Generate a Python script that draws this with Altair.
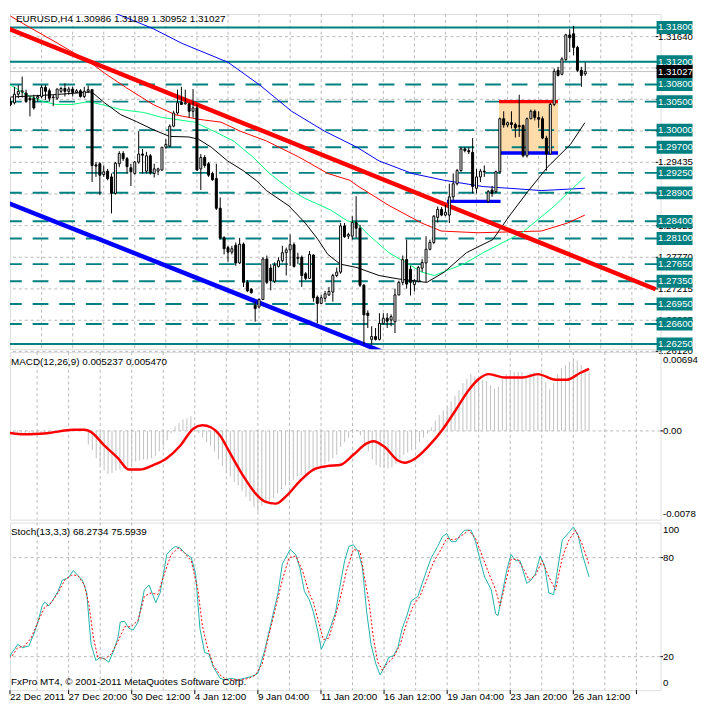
import altair as alt
import pandas as pd

# ---------------- data ----------------
OPEN = [1.3050, 1.3048, 1.3063, 1.3067, 1.3065, 1.3056, 1.3056, 1.3056, 1.3059, 1.3075,
        1.3069, 1.3058, 1.3056, 1.3068, 1.3073, 1.3068, 1.3072, 1.3066, 1.3069, 1.3059,
        1.3068, 1.3071, 1.2939, 1.2941, 1.2922, 1.2928, 1.2918, 1.2889, 1.2941, 1.2959,
        1.2950, 1.2934, 1.2924, 1.2944, 1.2958, 1.2928, 1.2955, 1.2924, 1.2928, 1.2930,
        1.2970, 1.2972, 1.3007, 1.3030, 1.3049, 1.3046, 1.3046, 1.3033, 1.3039, 1.2932,
        1.2952, 1.2941, 1.2924, 1.2915, 1.2863, 1.2811, 1.2794, 1.2786, 1.2798, 1.2767,
        1.2800, 1.2733, 1.2721, 1.2693, 1.2690, 1.2703, 1.2774, 1.2758, 1.2735, 1.2761,
        1.2771, 1.2785, 1.2790, 1.2799, 1.2775, 1.2777, 1.2748, 1.2740, 1.2781, 1.2707,
        1.2696, 1.2705, 1.2711, 1.2716, 1.2745, 1.2751, 1.2832, 1.2814, 1.2814, 1.2838,
        1.2828, 1.2728, 1.2679, 1.2633, 1.2638, 1.2633, 1.2661, 1.2670, 1.2667, 1.2664,
        1.2711, 1.2733, 1.2773, 1.2756, 1.2729, 1.2735, 1.2758, 1.2767, 1.2791, 1.2803,
        1.2847, 1.2861, 1.2851, 1.2851, 1.2883, 1.2906, 1.2929, 1.2967, 1.2964, 1.2961,
        1.2898, 1.2918, 1.2928, 1.2875, 1.2895, 1.2892, 1.2927, 1.3020, 1.3009, 1.3013,
        1.3010, 1.3008, 1.3008, 1.2955, 1.3020, 1.3033, 1.3022, 1.3020, 1.2986, 1.2958,
        1.3045, 1.3105, 1.3098, 1.3124, 1.3167, 1.3169, 1.3145, 1.3105, 1.30986]
HIGH = [1.3057, 1.3076, 1.3079, 1.3094, 1.3071, 1.3059, 1.3062, 1.3062, 1.3079, 1.3079,
        1.3073, 1.3062, 1.3073, 1.3076, 1.3082, 1.3076, 1.3076, 1.3072, 1.3072, 1.3076,
        1.3078, 1.3072, 1.2944, 1.2944, 1.2938, 1.2932, 1.2924, 1.2944, 1.2963, 1.2963,
        1.2953, 1.2941, 1.2946, 1.2998, 1.2967, 1.2962, 1.2958, 1.2941, 1.2934, 1.2970,
        1.2984, 1.3010, 1.3034, 1.3071, 1.3076, 1.3071, 1.3048, 1.3072, 1.3045, 1.2958,
        1.2956, 1.2944, 1.2927, 1.2941, 1.2882, 1.2814, 1.2797, 1.2797, 1.2803, 1.2811,
        1.2803, 1.2737, 1.2723, 1.2699, 1.2705, 1.2777, 1.2780, 1.2765, 1.2768, 1.2777,
        1.2797, 1.2794, 1.2817, 1.2803, 1.2785, 1.2780, 1.2751, 1.2788, 1.2782, 1.2710,
        1.2711, 1.2718, 1.2725, 1.2748, 1.2759, 1.2837, 1.2837, 1.2820, 1.2849, 1.2884,
        1.2834, 1.2730, 1.2684, 1.2656, 1.2653, 1.2679, 1.2679, 1.2679, 1.2677, 1.2722,
        1.2736, 1.2780, 1.2808, 1.2762, 1.2739, 1.2762, 1.2774, 1.2814, 1.2808, 1.2851,
        1.2866, 1.2865, 1.2869, 1.2906, 1.2924, 1.2932, 1.2970, 1.2970, 1.2970, 1.2986,
        1.2932, 1.2932, 1.2938, 1.2895, 1.2902, 1.2929, 1.3022, 1.3033, 1.3015, 1.3033,
        1.3013, 1.3062, 1.3010, 1.3022, 1.3036, 1.3036, 1.3033, 1.3024, 1.2990, 1.3048,
        1.3108, 1.3111, 1.3128, 1.3169, 1.3177, 1.3183, 1.3148, 1.3111, 1.31189]
LOW = [1.3042, 1.3045, 1.3056, 1.3057, 1.3048, 1.3024, 1.3036, 1.3050, 1.3056, 1.3053,
       1.3050, 1.3042, 1.3053, 1.3065, 1.3059, 1.3062, 1.3059, 1.3065, 1.3057, 1.3056,
       1.3065, 1.2909, 1.2918, 1.2886, 1.2918, 1.2912, 1.2854, 1.2887, 1.2935, 1.2946,
       1.2924, 1.2902, 1.2922, 1.2941, 1.2924, 1.2924, 1.2922, 1.2917, 1.2921, 1.2929,
       1.2967, 1.2970, 1.3005, 1.3027, 1.3045, 1.3045, 1.3022, 1.3022, 1.2929, 1.2895,
       1.2934, 1.2918, 1.2911, 1.2860, 1.2808, 1.2782, 1.2769, 1.2782, 1.2762, 1.2765,
       1.2725, 1.2716, 1.2713, 1.2664, 1.2687, 1.2702, 1.2730, 1.2719, 1.2732, 1.2759,
       1.2768, 1.2745, 1.2762, 1.2759, 1.2765, 1.2725, 1.2737, 1.2739, 1.2699, 1.2661,
       1.2695, 1.2699, 1.2709, 1.2699, 1.2742, 1.2748, 1.2811, 1.2809, 1.2808, 1.2811,
       1.2725, 1.2624, 1.2653, 1.2624, 1.2631, 1.2631, 1.2659, 1.2653, 1.2656, 1.2644,
       1.2710, 1.2728, 1.2722, 1.2710, 1.2717, 1.2733, 1.2751, 1.2733, 1.2789, 1.2800,
       1.2838, 1.2849, 1.2849, 1.2837, 1.2877, 1.2903, 1.2927, 1.2961, 1.2958, 1.2889,
       1.2889, 1.2909, 1.2918, 1.2872, 1.2883, 1.2889, 1.2924, 1.3004, 1.3005, 1.3003,
       1.2987, 1.2988, 1.2952, 1.2952, 1.3019, 1.3017, 1.3004, 1.2984, 1.2929, 1.2958,
       1.3042, 1.3094, 1.3096, 1.3121, 1.3137, 1.3131, 1.3102, 1.3076, 1.30952]
CLOSE = [1.3045, 1.3063, 1.3068, 1.3069, 1.3050, 1.3053, 1.3039, 1.3059, 1.3075, 1.3068,
         1.3056, 1.3057, 1.3072, 1.3073, 1.3068, 1.3072, 1.3066, 1.3069, 1.3059, 1.3068,
         1.3071, 1.2938, 1.2937, 1.2921, 1.2927, 1.2915, 1.2889, 1.2942, 1.2959, 1.2950,
         1.2936, 1.2927, 1.2944, 1.2958, 1.2956, 1.2955, 1.2925, 1.2932, 1.2932, 1.2970,
         1.2975, 1.3007, 1.3030, 1.3048, 1.3045, 1.3048, 1.3033, 1.3039, 1.2930, 1.2952,
         1.2938, 1.2921, 1.2913, 1.2863, 1.2811, 1.2792, 1.2786, 1.2792, 1.2767, 1.2800,
         1.2733, 1.2718, 1.2715, 1.2687, 1.2703, 1.2774, 1.2733, 1.2736, 1.2763, 1.2771,
         1.2785, 1.2790, 1.2799, 1.2761, 1.2777, 1.2745, 1.2740, 1.2782, 1.2706, 1.2696,
         1.2706, 1.2713, 1.2717, 1.2745, 1.2751, 1.2832, 1.2813, 1.2817, 1.2838, 1.2828,
         1.2728, 1.2676, 1.2675, 1.2638, 1.2633, 1.2661, 1.2670, 1.2665, 1.2673, 1.2711,
         1.2733, 1.2773, 1.2730, 1.2733, 1.2735, 1.2759, 1.2768, 1.2791, 1.2803, 1.2849,
         1.2861, 1.2851, 1.2856, 1.2883, 1.2906, 1.2929, 1.2967, 1.2964, 1.2962, 1.2901,
         1.2918, 1.2928, 1.2927, 1.2892, 1.2889, 1.2927, 1.3020, 1.3009, 1.3013, 1.3010,
         1.3004, 1.3006, 1.2955, 1.3020, 1.3033, 1.3022, 1.3019, 1.2986, 1.2958, 1.3045,
         1.3103, 1.3096, 1.3125, 1.3167, 1.3162, 1.3145, 1.3105, 1.3096, 1.31027]

BLUE_MA_I = [24, 31.7, 36.7, 44.2, 56.0, 64.2, 72.4, 80.9, 89.2, 94.9, 103.4, 111.7, 121.7, 128.4, 136.7, 147.9]
BLUE_MA_P = [1.3213, 1.3192, 1.3178, 1.3152, 1.3119, 1.3079, 1.3033, 1.2998, 1.2970, 1.2946, 1.2924, 1.2912,
             1.2901, 1.2898, 1.2894, 1.2898]
RED_MA_I = [0, 4.2, 11.7, 20.9, 24.2, 29.9, 36.7, 42.4, 48.4, 54.2, 59.2, 65.9, 74.2, 81.7, 87.4, 89.2, 97.4,
            105.9, 110.9, 120.4, 136.7, 143.4, 147.9]
RED_MA_P = [1.3200, 1.3183, 1.3154, 1.3117, 1.3100, 1.3074, 1.3045, 1.3027, 1.3019, 1.3014, 1.2998, 1.2981,
            1.2953, 1.2924, 1.2912, 1.2903, 1.2868, 1.2837, 1.2823, 1.2820, 1.2823, 1.2837, 1.2851]
GREEN_MA_I = [0, 4.2, 8.4, 11.7, 15.9, 20.0, 23.4, 28.4, 34.2, 39.2, 47.4, 52.4, 57.4, 62.4, 66.7, 72.4, 75.9,
              82.4, 86.7, 89.2, 92.4, 97.4, 101.7, 105.9, 109.2, 112.4, 116.7, 121.7, 131.7, 139.9, 147.9]
GREEN_MA_P = [1.3079, 1.3062, 1.3050, 1.3045, 1.3045, 1.3050, 1.3045, 1.3036, 1.3031, 1.3022, 1.3014, 1.2998,
              1.2981, 1.2953, 1.2924, 1.2894, 1.2880, 1.2860, 1.2841, 1.2837, 1.2815, 1.2785, 1.2768, 1.2751,
              1.2745, 1.2754, 1.2765, 1.2785, 1.2820, 1.2866, 1.2918]
BLACK_MA_I = [0, 10.9, 20.9, 24.2, 28.4, 32.4, 36.7, 40.9, 45.9, 48.4, 51.7, 55.9, 59.9, 63.4, 65.9, 71.7, 75.9,
              79.2, 81.7, 84.9, 89.2, 94.9, 99.9, 107.2, 111.7, 117.4, 124.2, 128.4, 133.4, 138.4, 144.2, 147.9]
BLACK_MA_P = [1.3058, 1.3062, 1.3067, 1.3048, 1.3027, 1.3015, 1.3001, 1.2989, 1.2988, 1.2984, 1.2970, 1.2946,
              1.2929, 1.2911, 1.2894, 1.2867, 1.2837, 1.2808, 1.2782, 1.2765, 1.2759, 1.2745, 1.2739, 1.2733,
              1.2751, 1.2785, 1.2808, 1.2849, 1.2894, 1.2936, 1.2975, 1.3013]

RED_TREND_I = [-0.875, 166.125]
RED_TREND_P = [1.3179, 1.2721]
BLUE_TREND_I = [-0.875, 96.6]
BLUE_TREND_P = [1.2873, 1.2609]

SOLID_LEVELS = [1.3180, 1.3120, 1.2625]
DASH_LEVELS = [1.3080, 1.3050, 1.3000, 1.2970, 1.2925, 1.2890, 1.2840, 1.2810, 1.2765, 1.2735, 1.2695, 1.2660]
GRID_PRICES = [1.31640, 1.31090, 1.30540, 1.29985, 1.29435, 1.28880, 1.28325, 1.27770, 1.27215, 1.26665, 1.26120]
SCALE_LABELS = [1.31640, 1.29435, 1.28325, 1.27770, 1.27215, 1.26665, 1.26120]
BID = 1.31027

BOX_I = [125.8, 141.0]
BOX_TOP, BOX_BOTTOM = 1.3050, 1.2960
SUPPORT_I = [112.4, 126.2]
SUPPORT_P = 1.2875

MACD_HIST = [-0.0002, -0.0002, -0.0002, -0.0002, -0.0003, -0.0003, -0.0003, -0.0002, -0.0002, -0.0002,
             -0.0001, -0.0001, -0.0001, 0.0000, 0.0000, 0.0001, 0.0001, 0.0001, 0.0001, 0.0002,
             0.0002, -0.0012, -0.0017, -0.0024, -0.0030, -0.0035, -0.0038, -0.0037, -0.0035, -0.0034,
             -0.0033, -0.0032, -0.0030, -0.0027, -0.0026, -0.0025, -0.0025, -0.0024, -0.0022, -0.0018,
             -0.0013, -0.0008, -0.0002, 0.0004, 0.0007, 0.0010, 0.0011, 0.0013, 0.0004, -0.0002,
             -0.0006, -0.0010, -0.0013, -0.0018, -0.0025, -0.0031, -0.0036, -0.0040, -0.0045, -0.0048,
             -0.0053, -0.0058, -0.0062, -0.0067, -0.0071, -0.0066, -0.0064, -0.0062, -0.0059, -0.0055,
             -0.0051, -0.0048, -0.0044, -0.0043, -0.0040, -0.0039, -0.0038, -0.0034, -0.0034, -0.0033,
             -0.0031, -0.0029, -0.0027, -0.0024, -0.0021, -0.0014, -0.0010, -0.0006, -0.0002, 0.0001,
             -0.0004, -0.0012, -0.0018, -0.0025, -0.0030, -0.0032, -0.0033, -0.0033, -0.0032, -0.0029,
             -0.0026, -0.0021, -0.0019, -0.0017, -0.0014, -0.0010, -0.0006, -0.0002, 0.0003, 0.0009,
             0.0014, 0.0018, 0.0021, 0.0026, 0.0031, 0.0036, 0.0042, 0.0046, 0.0050, 0.0048,
             0.0046, 0.0045, 0.0044, 0.0040, 0.0037, 0.0039, 0.0047, 0.0050, 0.0051, 0.0052,
             0.0052, 0.0052, 0.0049, 0.0051, 0.0052, 0.0050, 0.0047, 0.0043, 0.0037, 0.0042,
             0.0050, 0.0055, 0.0058, 0.0061, 0.0063, 0.0062, 0.0058, 0.0055, 0.005237]
MACD_SIG_I = [0, 4.8, 10.5, 17.2, 20.0, 21.7, 25.1, 28.5, 31.3, 34.1, 37.5, 40.9, 44.3, 47.6, 49.9, 52.2, 54.4,
              56.7, 60.0, 63.4, 65.7, 68.5, 71.3, 74.7, 78.1, 81.5, 84.8, 88.2, 91.6, 93.3, 96.1, 99.5, 101.2,
              104.0, 107.4, 110.8, 114.1, 117.5, 119.8, 122.6, 126.6, 131.1, 135.0, 139.5, 142.3, 145.7, 148.0]
MACD_SIG_V = [-0.0001, -0.0003, -0.0002, 0.0001, 0.0001, -0.0001, -0.0013, -0.0024, -0.0034, -0.0034, -0.0030,
              -0.0024, -0.0013, 0.0002, 0.0005, 0.0003, -0.0004, -0.0018, -0.0038, -0.0055, -0.0062, -0.0064,
              -0.0057, -0.0044, -0.0034, -0.0031, -0.0030, -0.0021, -0.0011, -0.0009, -0.0014, -0.0026, -0.0028,
              -0.0024, -0.0013, 0.0001, 0.0018, 0.0036, 0.0045, 0.0050, 0.0047, 0.0047, 0.0050, 0.0045, 0.0045,
              0.0051, 0.00547]

STOCH_MAIN_I = [0.1, 1.4, 3.1, 4.3, 5.9, 7.1, 8.2, 9.3, 9.9, 11.0, 12.1, 13.3, 14.4, 15.5, 16.1, 17.2, 18.3, 19.5,
                20.6, 21.2, 21.7, 22.9, 24.0, 25.1, 26.2, 27.4, 28.5, 29.1, 30.2, 31.3, 32.4, 33.6, 35.2, 36.4,
                37.5, 38.1, 39.2, 40.9, 42.0, 43.1, 44.3, 45.4, 47.1, 48.2, 49.3, 50.5, 51.6, 52.7, 54.4, 55.5,
                57.2, 58.9, 60.6, 62.3, 64.0, 65.7, 67.4, 69.1, 70.2, 71.3, 72.2, 73.6, 74.7, 75.8, 77.0, 78.1,
                79.2, 80.1, 81.2, 82.6, 83.7, 84.8, 86.0, 87.1, 88.2, 89.4, 90.5, 91.6, 92.7, 93.9, 95.0, 96.1,
                97.2, 98.4, 99.5, 100.6, 101.8, 102.9, 104.6, 105.7, 106.8, 108.0, 109.6, 110.8, 111.9, 113.0,
                114.2, 115.3, 116.4, 118.1, 119.2, 120.4, 121.5, 123.2, 124.3, 124.9, 126.0, 127.1, 128.2, 129.4,
                130.5, 132.2, 133.3, 134.4, 135.6, 136.7, 137.8, 139.0, 140.1, 141.2, 142.3, 144.0, 145.2, 146.3,
                148.0]
STOCH_MAIN_V = [14.2, 21.6, 27.4, 25.5, 26.4, 33.2, 41.0, 50.8, 53.1, 50.8, 54.7, 59.5, 66.4, 67.3, 68.3, 72.2,
                69.3, 66.4, 58.6, 41.0, 27.4, 17.7, 19.6, 18.6, 16.7, 23.5, 31.3, 41.0, 41.4, 37.1, 36.2, 41.0,
                60.5, 63.4, 56.6, 52.7, 58.6, 81.9, 84.9, 86.8, 85.8, 82.9, 80.0, 70.3, 37.1, 22.5, 21.6, 13.8,
                6.9, 6.0, 6.9, 6.0, 6.9, 7.9, 9.9, 23.5, 41.0, 58.6, 76.1, 81.0, 84.9, 81.9, 73.2, 59.5, 54.7,
                46.9, 35.2, 24.5, 30.3, 39.1, 46.9, 62.5, 78.1, 86.8, 87.8, 83.9, 74.2, 46.9, 27.4, 15.7, 8.9,
                13.8, 19.6, 20.6, 25.5, 37.1, 44.9, 53.7, 56.6, 64.4, 72.2, 80.0, 86.8, 92.7, 94.6, 89.7, 89.7,
                93.6, 96.6, 96.6, 89.7, 78.1, 68.3, 60.5, 45.9, 44.9, 58.6, 72.2, 81.9, 78.1, 78.1, 64.4, 66.4,
                70.3, 81.0, 75.1, 58.6, 57.6, 74.2, 90.7, 93.6, 98.5, 93.6, 81.9, 68.3]
STOCH_SIG_I = [0.1, 1.4, 3.1, 4.8, 6.5, 8.2, 9.9, 11.6, 13.3, 15.0, 16.7, 18.3, 20.0, 21.2, 22.3, 23.4, 25.1, 26.8,
               28.5, 30.2, 31.9, 33.6, 35.2, 36.9, 38.6, 40.3, 42.0, 43.7, 45.4, 47.1, 48.8, 49.9, 51.0, 52.7,
               54.4, 56.1, 57.8, 60.0, 61.7, 63.4, 65.1, 66.8, 68.5, 70.2, 71.9, 73.6, 75.3, 77.0, 78.1, 79.4,
               80.6, 82.0, 83.2, 84.8, 86.5, 88.2, 89.9, 91.0, 92.2, 93.3, 94.4, 95.6, 96.7, 98.4, 100.1, 101.8,
               103.4, 105.1, 106.8, 108.5, 110.2, 111.9, 113.6, 114.7, 116.4, 117.5, 119.2, 120.9, 122.6, 124.3,
               125.4, 126.6, 128.2, 129.9, 131.6, 132.8, 134.4, 136.1, 137.8, 139.5, 141.2, 142.9, 144.6, 146.3,
               148.0]
STOCH_SIG_V = [21.6, 19.6, 25.5, 26.4, 31.3, 41.0, 49.8, 52.7, 58.6, 66.4, 69.3, 69.3, 63.4, 50.8, 31.3, 19.6,
               18.6, 21.6, 29.3, 38.1, 38.1, 42.0, 56.6, 58.6, 57.6, 70.3, 81.9, 85.8, 82.9, 78.1, 60.5, 39.1,
               27.4, 14.7, 8.9, 6.0, 6.0, 6.0, 6.9, 8.9, 15.7, 33.2, 49.8, 66.4, 80.0, 81.0, 72.2, 58.6, 52.7,
               41.0, 30.3, 31.3, 41.0, 54.7, 72.2, 84.9, 83.9, 68.3, 52.7, 31.3, 16.7, 11.8, 15.7, 19.6, 27.4,
               41.0, 50.8, 56.6, 66.4, 77.1, 83.9, 91.7, 90.7, 91.7, 94.6, 96.6, 91.7, 81.0, 70.3, 60.5, 50.8,
               62.5, 79.0, 79.0, 72.2, 66.4, 69.3, 78.1, 68.3, 60.5, 80.0, 90.7, 96.6, 87.8, 75.6]

TIME_TICKS = [1.125, 16, 32, 48, 64, 80, 96, 112, 128, 144, 160]
TIME_LABELS = ["22 Dec 2011", "27 Dec 20:00", "30 Dec 12:00", "4 Jan 12:00", "9 Jan 04:00",
               "11 Jan 20:00", "16 Jan 12:00", "19 Jan 04:00", "23 Jan 20:00", "26 Jan 12:00"]
VGRID = list(range(8, 161, 8))

PRICE_TITLE = "EURUSD,H4  1.30986 1.31189 1.30952 1.31027"
MACD_TITLE = "MACD(12,26,9) 0.005237 0.005470"
STOCH_TITLE = "Stoch(13,3,3) 68.2734 75.5939"
COPYRIGHT = "FxPro MT4, \u00a9 2001-2011 MetaQuotes Software Corp."

# ---------------- layout / style ----------------
FONT = "Liberation Sans"
FS = 10
LFS = 9.8
TEAL = "#008080"
GRIDC = "#b8b8b8"
X_DOMAIN = [1.125, 166.125]
BOX_LEFT = 166.375
RIGHT_EDGE = 175.625
LABEL_X = 166.75
LABEL_LIMIT = 35.5
W = 660
H_PRICE, H_MACD, H_STOCH = 340, 170, 170
PRICE_DOMAIN = [1.26159, 1.32037]
MACD_DOMAIN = [-0.00781, 0.00694]
STOCH_DOMAIN = [-0.3, 101.2]

xs = alt.Scale(domain=X_DOMAIN, nice=False, zero=False)


def X(f):
    return alt.X(f, type="quantitative", scale=xs, axis=None)


def XD(v):
    return alt.XDatum(v, type="quantitative", scale=xs, axis=None)


def yfuncs(domain):
    sc = alt.Scale(domain=domain, nice=False, zero=False)

    def Y(f):
        return alt.Y(f, type="quantitative", scale=sc, axis=None)

    def YD(v):
        return alt.YDatum(v, type="quantitative", scale=sc, axis=None)
    return Y, YD


def df_line(i_list, v_list):
    return pd.DataFrame({"i": i_list, "v": v_list})


def vgrid():
    return alt.Chart(pd.DataFrame({"i": VGRID})).mark_rule(
        color=GRIDC, strokeDash=[3, 3], strokeWidth=1).encode(x=X("i"))


def text_at(txt, x, y, YD, align="left", baseline="middle", color="black", size=FS):
    return alt.Chart(pd.DataFrame({"t": [txt]})).mark_text(
        align=align, baseline=baseline, font=FONT, fontSize=size, color=color
    ).encode(x=XD(x), y=YD(y), text="t:N")


def scale_text(df, Y, color="black"):
    return alt.Chart(df).mark_text(align="left", baseline="middle", font=FONT, fontSize=LFS, color=color,
                                   limit=LABEL_LIMIT, ellipsis="\u200b").encode(
        x=XD(LABEL_X), y=Y("v"), text="t:N")


# ---------------- price panel ----------------
YP, YPD = yfuncs(PRICE_DOMAIN)

hgrid = alt.Chart(pd.DataFrame({"v": GRID_PRICES})).mark_rule(
    color=GRIDC, strokeDash=[3, 3]).encode(y=YP("v"))
bid_line = alt.Chart(pd.DataFrame({"v": [BID]})).mark_rule(color="#c0c0c0").encode(y=YP("v"))

box = alt.Chart(pd.DataFrame({"a": [BOX_I[0]], "b": [BOX_I[1]], "t": [BOX_TOP], "u": [BOX_BOTTOM]})).mark_rect(
    fill="#FDDCAA").encode(x=X("a"), x2="b", y=YP("t"), y2="u")

solid_lv = alt.Chart(pd.DataFrame({"v": SOLID_LEVELS})).mark_rule(color=TEAL, strokeWidth=2).encode(y=YP("v"))
dash_lv = alt.Chart(pd.DataFrame({"v": DASH_LEVELS})).mark_rule(
    color=TEAL, strokeWidth=2, strokeDash=[16, 11]).encode(y=YP("v"))


def pline(i_list, v_list, color, width, Y, dash=None, interp=None):
    kw = dict(color=color, strokeWidth=width, clip=True)
    if dash:
        kw["strokeDash"] = dash
    if interp:
        kw["interpolate"] = interp
    return alt.Chart(df_line(i_list, v_list)).mark_line(**kw).encode(x=X("i"), y=Y("v"))


blue_ma = pline(BLUE_MA_I, BLUE_MA_P, "#0000ff", 1, YP)
red_ma = pline(RED_MA_I, RED_MA_P, "#ff0000", 1, YP)
green_ma = pline(GREEN_MA_I, GREEN_MA_P, "#00ff7f", 1, YP)
black_ma = pline(BLACK_MA_I, BLACK_MA_P, "#000000", 1, YP)
red_trend = pline(RED_TREND_I, RED_TREND_P, "#ff0000", 4.5, YP)
blue_trend = pline(BLUE_TREND_I, BLUE_TREND_P, "#0000ff", 4.5, YP)


def hseg(i_pair, p, color, width):
    return alt.Chart(pd.DataFrame({"a": [i_pair[0]], "b": [i_pair[1]], "p": [p]})).mark_rule(
        color=color, strokeWidth=width).encode(x=X("a"), x2="b", y=YP("p"))


seg_top = hseg(BOX_I, BOX_TOP, "#ff0000", 3.5)
seg_bot = hseg(BOX_I, BOX_BOTTOM, "#0000ff", 3.5)
seg_sup = hseg(SUPPORT_I, SUPPORT_P, "#0000ff", 3.5)

cdf = pd.DataFrame({"i": list(range(len(OPEN))), "o": OPEN, "h": HIGH, "l": LOW, "c": CLOSE})
wicks = alt.Chart(cdf).mark_rule(color="black", strokeWidth=1, clip=True).encode(
    x=X("i"), y=YP("l"), y2="h")
bodies = alt.Chart(cdf).mark_bar(size=2, stroke="black", strokeWidth=1, clip=True).encode(
    x=X("i"), y=YP("o"), y2="c",
    fill=alt.condition("datum.c >= datum.o", alt.value("white"), alt.value("black")))

# right price scale
glab = pd.DataFrame({"v": SCALE_LABELS, "t": [f"{p:.5f}" for p in SCALE_LABELS]})
gticks = alt.Chart(pd.DataFrame({"v": GRID_PRICES})).mark_rule(color="black").encode(
    x=XD(X_DOMAIN[1]), x2=alt.X2Datum(LABEL_X), y=YP("v"))
gtext = scale_text(glab, YP)

HALF = 0.00113
levels = SOLID_LEVELS + DASH_LEVELS
ldf = pd.DataFrame({"v": levels, "t": [f"{p:.5f}" for p in levels]})
ldf["top"] = ldf["v"] + HALF
ldf["bot"] = ldf["v"] - HALF
lbox = alt.Chart(ldf).mark_rect(fill=TEAL).encode(
    x=XD(BOX_LEFT), x2=alt.X2Datum(RIGHT_EDGE), y=YP("top"), y2="bot")
ltext = scale_text(ldf, YP, "white")
bdf = pd.DataFrame({"v": [BID], "t": [f"{BID:.5f}"], "top": [BID + HALF], "bot": [BID - HALF]})
bbox = alt.Chart(bdf).mark_rect(fill="black").encode(
    x=XD(BOX_LEFT), x2=alt.X2Datum(RIGHT_EDGE), y=YP("top"), y2="bot")
btext = scale_text(bdf, YP, "white")

ptitle = text_at(PRICE_TITLE, 1.4, 1.3203, YPD, baseline="top")

price = alt.layer(
    vgrid(), hgrid, bid_line, box, solid_lv, dash_lv,
    blue_ma, red_ma, green_ma, black_ma, red_trend, blue_trend,
    seg_top, seg_bot, seg_sup, wicks, bodies,
    gticks, gtext, lbox, ltext, bbox, btext, ptitle
).properties(width=W, height=H_PRICE)

# ---------------- MACD panel ----------------
YM, YMD = yfuncs(MACD_DOMAIN)
zero = alt.Chart(pd.DataFrame({"v": [0.0]})).mark_rule(color=GRIDC, strokeDash=[3, 3]).encode(y=YM("v"))
hist = alt.Chart(pd.DataFrame({"i": list(range(len(MACD_HIST))), "v": MACD_HIST})).mark_rule(
    color="#c0c0c0", strokeWidth=1, clip=True).encode(x=X("i"), y=YM("v"), y2=alt.Y2Datum(0))
sig = pline(MACD_SIG_I, MACD_SIG_V, "#ff0000", 2.5, YM, interp="monotone")
mlab = pd.DataFrame({"v": [0.00627, 0.0, -0.00731], "t": ["0.00694", "0.00", "-0.00781"]})
mtext = scale_text(mlab, YM)
mtick = alt.Chart(pd.DataFrame({"v": [0.0]})).mark_rule(color="black").encode(
    x=XD(X_DOMAIN[1]), x2=alt.X2Datum(LABEL_X), y=YM("v"))
mtitle = text_at(MACD_TITLE, 1.4, 0.00607, YMD)
macd = alt.layer(vgrid(), zero, hist, sig, mtick, mtext, mtitle).properties(width=W, height=H_MACD)

# ---------------- Stochastic panel ----------------
YS, YSD = yfuncs(STOCH_DOMAIN)
shgrid = alt.Chart(pd.DataFrame({"v": [80, 20]})).mark_rule(color=GRIDC, strokeDash=[3, 3]).encode(y=YS("v"))
smain = pline(STOCH_MAIN_I, STOCH_MAIN_V, "#20b2aa", 1, YS)
ssig = pline(STOCH_SIG_I, STOCH_SIG_V, "#ff0000", 1, YS, dash=[2, 2])
slab = pd.DataFrame({"v": [96.4, 80, 20, 3.9], "t": ["100", "80", "20", "0"]})
stext = scale_text(slab, YS)
stick = alt.Chart(pd.DataFrame({"v": [80, 20]})).mark_rule(color="black").encode(
    x=XD(X_DOMAIN[1]), x2=alt.X2Datum(LABEL_X), y=YS("v"))
stitle = text_at(STOCH_TITLE, 1.4, 95.4, YSD)
scopy = text_at(COPYRIGHT, 1.4, 4.7, YSD)

# time scale under the last panel (ticks and labels in the panel's own units)
tdf = pd.DataFrame({"i": TIME_TICKS})
xticks = alt.Chart(tdf).mark_rule(color="black").encode(
    x=X("i"), y=YSD(STOCH_DOMAIN[0]), y2=alt.Y2Datum(-2.7))
ldf_t = pd.DataFrame({"i": TIME_TICKS[:len(TIME_LABELS)], "t": TIME_LABELS})
xlabels = alt.Chart(ldf_t).mark_text(align="left", baseline="top", font=FONT, fontSize=FS, color="black").encode(
    x=X("i"), y=YSD(-1.5), text="t:N")

stoch = alt.layer(vgrid(), shgrid, smain, ssig, stick, stext, stitle, scopy, xticks, xlabels).properties(
    width=W, height=H_STOCH)

chart = alt.vconcat(price, macd, stoch, spacing=3, bounds="flush").properties(
    padding=0
).configure_view(stroke="black", strokeWidth=1).configure(background="white")

chart.save("out.html", embed_options={"renderer": "svg", "actions": False})
